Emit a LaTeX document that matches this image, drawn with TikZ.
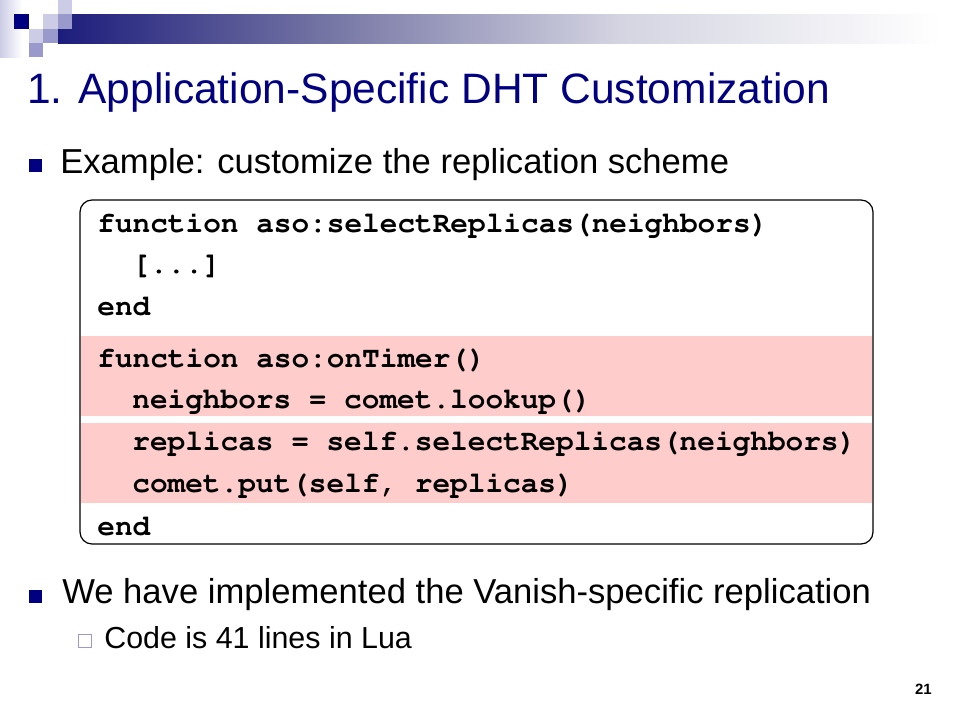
\documentclass[tikz,border=0pt]{standalone}
\usepackage[T1]{fontenc}
\usepackage{fontspec}
\setmainfont{Liberation Sans}
\setmonofont{Liberation Mono}
\definecolor{navy}{RGB}{0,0,128}
\definecolor{barnavy}{RGB}{28,28,124}
\definecolor{lavlight}{RGB}{204,204,230}
\definecolor{lavmid}{RGB}{153,153,204}
\definecolor{codepink}{RGB}{255,204,204}
\newcommand{\courierbold}{\fontencoding{T1}\fontfamily{pcr}\fontseries{b}\selectfont}
\tikzset{
  codeline/.style={anchor=base west, inner sep=0pt, font=\fontsize{16.75}{18}\selectfont\courierbold},
  bullettext/.style={anchor=base west, inner sep=0pt, font=\fontsize{19.7}{22}\selectfont},
  subtext/.style={anchor=base west, inner sep=0pt, font=\fontsize{17.3}{20}\selectfont}
}
\begin{document}
\begin{tikzpicture}[x=0.02cm, y=-0.02cm]

            \useasboundingbox (0,0) rectangle (960,720);

            % top decoration
            \shade[left color=lavlight, right color=white] (0,0) rectangle (22,57);
            \shade[left color=barnavy, right color={rgb,255:red,118;green,118;blue,165}] (58,14) rectangle (330,43);
            \shade[left color={rgb,255:red,118;green,118;blue,165}, right color={rgb,255:red,212;green,212;blue,226}] (329.5,14) rectangle (620,43);
            \shade[left color={rgb,255:red,212;green,212;blue,226}, right color=white] (619.5,14) rectangle (940,43);
            \fill[lavlight] (58,0) rectangle (72,14);
            \fill[navy] (14,14) rectangle (29,29);
            \fill[lavlight] (43,14) rectangle (58,29);
            \fill[lavmid] (58,14) rectangle (72,29);
            \fill[lavlight] (29,29) rectangle (43,43);
            \fill[lavmid] (43,29) rectangle (58,43);
            \fill[lavmid] (29,43) rectangle (43,57);

            \node[anchor=base west, inner sep=0pt, text=navy, font=\fontsize{24.2}{28}\selectfont] (title) at (27,103) {1. Application-Specific DHT Customization};

            \fill[navy] (29,159) rectangle (42,172);
            \node[bullettext] (ex) at (60,173) {Example: customize the replication scheme};

            % code box
            \fill[codepink] (81,336) rectangle (872,416);
            \fill[codepink] (81,423) rectangle (872,503);
            \draw[line width=0.7pt, rounded corners=0.24cm] (80,200) rectangle (873,544);

            \node[codeline] (c1) at (97,232) {function aso:selectReplicas(neighbors)};
            \node[codeline] (c2) at (132,273) {[...]};
            \node[codeline] (c3) at (97,315) {end};
            \node[codeline] (c4) at (97,367) {function aso:onTimer()};
            \node[codeline] (c5) at (132,408) {neighbors = comet.lookup()};
            \node[codeline] (c6) at (132,450) {replicas = self.selectReplicas(neighbors)};
            \node[codeline] (c7) at (132,492) {comet.put(self, replicas)};
            \node[codeline] (c8) at (97,535) {end};

            \fill[navy] (29,590) rectangle (42,603);
            \node[bullettext] (impl) at (62,603) {We have implemented the Vanish-specific replication};

            \draw[lavmid, line width=0.9pt] (78.5,634.5) rectangle (91.5,647.5);
            \node[subtext] (lua) at (104,648) {Code is 41 lines in Lua};

            \node[anchor=base east, inner sep=0pt, font=\fontsize{8.5}{9}\selectfont\bfseries] (page) at (932,694) {21};

        \end{tikzpicture}
\end{document}
